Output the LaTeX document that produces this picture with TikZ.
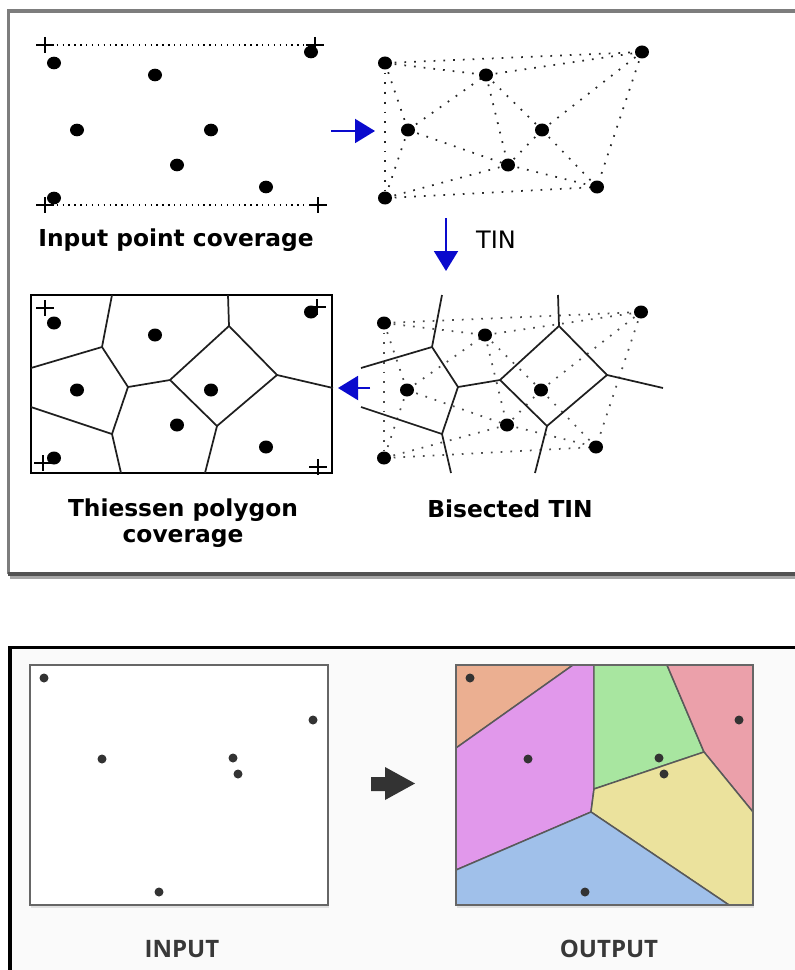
\documentclass[tikz,border=0pt]{standalone}
\usepackage{fontspec}
\usetikzlibrary{arrows.meta,shadows}

\newfontfamily\verdfont{DejaVu Sans}
\newfontfamily\opensfont{Open Sans}

\definecolor{tinblue}{RGB}{10,10,205}
\definecolor{frmgray}{RGB}{125,125,125}
\definecolor{cellOrange}{RGB}{235,175,145}
\definecolor{cellPink}{RGB}{225,152,235}
\definecolor{cellGreen}{RGB}{168,230,160}
\definecolor{cellRed}{RGB}{235,160,170}
\definecolor{cellYellow}{RGB}{235,226,157}
\definecolor{cellBlue}{RGB}{160,192,234}

\tikzset{every picture/.style={line width=0.75pt}}
\tikzset{
	site/.style={fill=black},
	pdot/.style={fill=black!80},
	tinedge/.style={line width=1.3pt, dash pattern=on 1.3pt off 6pt, black!85},
	hulldots/.style={line width=1pt, dash pattern=on 1pt off 3.4pt},
	bisector/.style={line width=1.3pt, black!88},
	crossline/.style={line width=1pt},
	stepflow/.style={line width=1.5pt, tinblue, -{Triangle[length=15pt,width=18pt]}},
	coverlabel/.style={font=\verdfont\bfseries\fontsize{17.5}{19.5}\selectfont, align=center},
	tinlabel/.style={font=\verdfont\fontsize{18}{20}\selectfont},
	boxlabel/.style={font=\opensfont\bfseries\fontsize{18}{20}\selectfont, text=black!78},
	mapbox/.style={draw=black!60, line width=1.4pt},
	cell/.style={draw=black!65, line width=1.1pt},
}

% sample points and their triangulation
\newcommand\sitelist{54/63/a,155/75/b,77/130/c,211/130/d,177/165/e,266/187/f,54/198/g,311/52/h}
\newcommand\tinlist{a/h,a/b,b/h,a/c,a/g,c/g,c/b,c/e,b/e,b/d,d/h,d/f,d/e,e/f,h/f,g/e,g/f}
\newcommand\pointlist{44/678/p,102/759/q,233/758/r,238/774/s,313/720/t,159/892/u}

% perpendicular bisectors between the sample points
\newcommand\bisectorlines{%
	\coordinate (v1) at (102,347);
	\coordinate (v2) at (128,387);
	\coordinate (v3) at (170,380);
	\coordinate (v4) at (112,434);
	\coordinate (v5) at (229,326);
	\coordinate (v6) at (277,375);
	\coordinate (v7) at (217,426);
	\draw[bisector] (112,295) -- (v1) -- (31,368);
	\draw[bisector] (v1) -- (v2) -- (v3) -- (v5) -- (v6) -- (v7) -- (v3);
	\draw[bisector] (v2) -- (v4) -- (31,407);
	\draw[bisector] (v4) -- (121,473);
	\draw[bisector] (v5) -- (228,295);
	\draw[bisector] (v6) -- (333,388);
	\draw[bisector] (v7) -- (205,473);
}

\begin{document}
\begin{tikzpicture}[x=0.75pt,y=0.75pt,yscale=-1,xscale=1]
	\useasboundingbox (0,0) rectangle (794,970);

	%Shape: Frame, upper part
	\draw[frmgray, line width=2.3pt] (8.7,574) -- (8.7,11) -- (800,11);
	\draw[black!68, line width=3pt] (7.5,573.5) -- (800,573.5);
	\draw[black!35, line width=2pt] (10,577.6) -- (800,577.6);

	%Shape: Input points
	\coordinate (inTL) at (45,45);
	\coordinate (inTR) at (315,45);
	\coordinate (inBL) at (45,205);
	\coordinate (inBR) at (318,205);
	\draw[hulldots] (inTL) -- (inTR);
	\draw[hulldots] (inBL) -- (inBR);
	\foreach \c in {inTL,inTR,inBL,inBR}
		\draw[crossline] (\c) +(-9,0) -- +(9,0) (\c) +(0,-8) -- +(0,8);
	\foreach \x/\y/\n in \sitelist {
		\coordinate (in\n) at (\x,\y);
		\fill[site] (in\n) ellipse [x radius=7, y radius=6.3];
	}

	%Shape: TIN
	\begin{scope}[shift={(331,0)}]
		\foreach \x/\y/\n in \sitelist \coordinate (tin\n) at (\x,\y);
	\end{scope}
	\foreach \u/\v in \tinlist \draw[tinedge] (tin\u) -- (tin\v);
	\foreach \x/\y/\n in \sitelist \fill[site] (tin\n) ellipse [x radius=7, y radius=6.5];

	%Shape: Bisected TIN
	\begin{scope}[shift={(330,260)}]
		\foreach \x/\y/\n in \sitelist \coordinate (bis\n) at (\x,\y);
	\end{scope}
	\foreach \u/\v in \tinlist \draw[tinedge, black!70] (bis\u) -- (bis\v);
	\begin{scope}[shift={(330,0)}]
		\bisectorlines
	\end{scope}
	\foreach \x/\y/\n in \sitelist \fill[site] (bis\n) ellipse [x radius=7, y radius=6.5];

	%Shape: Thiessen polygons
	\draw[line width=1.3pt] (31,295) rectangle (332,473);
	\bisectorlines
	\begin{scope}[shift={(0,260)}]
		\foreach \x/\y/\n in \sitelist {
			\coordinate (thi\n) at (\x,\y);
			\fill[site] (thi\n) ellipse [x radius=7, y radius=6.5];
		}
	\end{scope}
	\coordinate (thiTL) at (45,308);
	\coordinate (thiTR) at (317,307);
	\coordinate (thiBL) at (43,463);
	\coordinate (thiBR) at (318,467);
	\foreach \c in {thiTL,thiTR,thiBL,thiBR}
		\draw[crossline] (\c) +(-9,0) -- +(9,0) (\c) +(0,-8) -- +(0,8);

	%Straight Lines: process steps
	\coordinate (toTinA) at (331,131);
	\coordinate (toTinB) at (375,131);
	\coordinate (toBisA) at (446,218);
	\coordinate (toBisB) at (446,271);
	\coordinate (toThiA) at (370,388);
	\coordinate (toThiB) at (338,388);
	\draw[stepflow] (toTinA) -- (toTinB);
	\draw[stepflow] (toBisA) -- (toBisB);
	\draw[stepflow] (toThiA) -- (toThiB);

	% Text Node
	\node[coverlabel, anchor=base] (lblInput) at (176,246) {Input point coverage};
	% Text Node
	\node[tinlabel, anchor=base] (lblTin) at (496,248) {TIN};
	% Text Node
	\node[coverlabel, anchor=base] (lblThiessen) at (183,542) {Thiessen polygon\\coverage};
	% Text Node
	\node[coverlabel, anchor=base] (lblBisected) at (510,517) {Bisected TIN};

	%Shape: Frame, lower part
	\fill[black!2] (10,647.5) rectangle (800,975);
	\draw[line width=2.3pt] (10,975) -- (10,647.5) -- (800,647.5);

	%Shape: Input map
	\draw[mapbox, fill=white, drop shadow={shadow xshift=1pt, shadow yshift=-2pt, opacity=0.2}] (30,665) rectangle (328,905);
	\foreach \x/\y/\n in \pointlist {
		\coordinate (pin\n) at (\x,\y);
		\fill[pdot] (pin\n) circle [radius=4.5];
	}

	%Shape: Block arrow
	\fill[black!80] (371,777) -- (385,777) -- (385,767) -- (415,783.5) -- (385,800) -- (385,791) -- (371,791) -- cycle;

	%Shape: Output map
	\fill[black!20, drop shadow={shadow xshift=1pt, shadow yshift=-2pt, opacity=0.2}] (456,665) rectangle (753,905);
	\filldraw[cell, fill=cellOrange] (456,665) -- (573,665) -- (456,748) -- cycle;
	\filldraw[cell, fill=cellPink] (456,748) -- (573,665) -- (594,665) -- (594,789) -- (591,812) -- (456,870) -- cycle;
	\filldraw[cell, fill=cellGreen] (594,665) -- (667,665) -- (704,752) -- (594,789) -- cycle;
	\filldraw[cell, fill=cellRed] (667,665) -- (753,665) -- (753,812) -- (704,752) -- cycle;
	\filldraw[cell, fill=cellYellow] (594,789) -- (704,752) -- (753,812) -- (753,905) -- (729,905) -- (591,812) -- cycle;
	\filldraw[cell, fill=cellBlue] (456,870) -- (591,812) -- (729,905) -- (456,905) -- cycle;
	\draw[mapbox] (456,665) rectangle (753,905);
	\begin{scope}[shift={(426,0)}]
		\foreach \x/\y/\n in \pointlist {
			\coordinate (pout\n) at (\x,\y);
			\fill[pdot] (pout\n) circle [radius=4.5];
		}
	\end{scope}

	% Text Node
	\node[boxlabel, anchor=base] (lblIn) at (182,957) {INPUT};
	% Text Node
	\node[boxlabel, anchor=base] (lblOut) at (609,957) {OUTPUT};

\end{tikzpicture}
\end{document}
